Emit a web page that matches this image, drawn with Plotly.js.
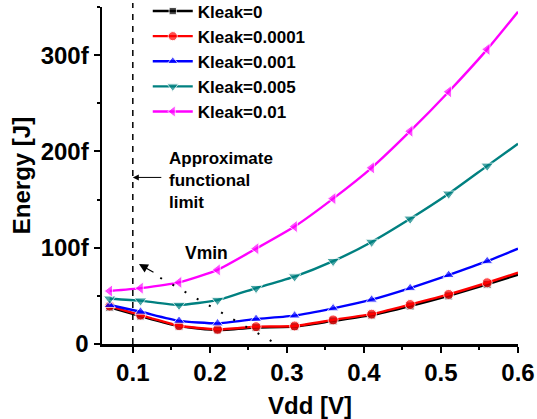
<!DOCTYPE html>
<html>
<head>
<meta charset="utf-8">
<script src="https://cdn.plot.ly/plotly-3.0.1.min.js"></script>
<style>html,body{margin:0;padding:0;background:#fff;}#chart{width:537px;height:419px;}</style>
</head>
<body>
<div id="chart"></div>
<script>
// Supply voltage (V)
const vdd = [0.07, 0.11, 0.16, 0.21, 0.26, 0.31, 0.36, 0.41, 0.46, 0.51, 0.56, 0.60];
// Energy in fJ
const k0      = [38, 29, 18.5, 14.5, 17, 18, 24, 30, 39.5, 50, 62, 72];
const k0001   = [39.4, 30, 19, 15.2, 18, 18.7, 25, 31, 41, 51.5, 63.6, 74];
const k001    = [40.5, 33.5, 24, 21.4, 26, 29.5, 37, 46, 58, 71.6, 86, 99];
const k005    = [47, 45, 40.5, 45.6, 58, 70, 86, 106, 130, 156, 185, 208];
const k01     = [55, 58, 64, 77, 99, 122, 151, 183, 221, 262, 306, 345];
const names = ["Kleak=0", "Kleak=0.0001", "Kleak=0.001", "Kleak=0.005", "Kleak=0.01"];
const yTickVals = [0, 100, 200, 300];
const yTickText = ["0", "100f", "200f", "300f"];

const series = [k0, k0001, k001, k005, k01];
const colors = ["#000000", "#ff0000", "#0000ff", "#008080", "#ff00ff"];
const symbols = ["square", "circle", "triangle-up", "triangle-down", "triangle-left"];
const msizes = [8, 10, 10, 11, 11];

const traces = series.map((ys, i) => ({
  x: vdd, y: ys, name: names[i], type: "scatter", mode: "lines+markers",
  line: {color: colors[i], width: 2.4, shape: "spline", smoothing: 0.5},
  marker: {color: colors[i], symbol: symbols[i],
           size: vdd.map((v, j) => j === vdd.length - 1 ? 0 : msizes[i])}
}));

const F = "Arial, 'Liberation Sans', sans-serif";
const layout = {
  width: 537, height: 419,
  margin: {l: 102, r: 19, t: 7, b: 75, autoexpand: false},
  paper_bgcolor: "#fff", plot_bgcolor: "#fff",
  font: {family: F, color: "#000"},
  showlegend: true,
  legend: {x: 0.11, xanchor: "left", y: 1.04, yanchor: "top",
           itemwidth: 40,
           bgcolor: "rgba(0,0,0,0)", font: {size: 17, family: F, weight: "bold"},
           tracegroupgap: 0},
  xaxis: {
    range: [0.06, 0.6], showgrid: false, zeroline: false, automargin: false,
    showline: true, linewidth: 2.5, linecolor: "#000",
    ticks: "outside", ticklen: 6, tickwidth: 2, tickcolor: "#000",
    tick0: 0, dtick: 0.1,
    tickfont: {size: 24, family: F, weight: "bold"},
    minor: {tick0: 0, dtick: 0.05, ticks: "outside", ticklen: 3, tickwidth: 2, tickcolor: "#000"},
    title: {text: "Vdd [V]", font: {size: 24, family: F, weight: "bold"}, standoff: 12}
  },
  yaxis: {
    range: [0, 350], showgrid: false, zeroline: false, automargin: false,
    showline: true, linewidth: 2.5, linecolor: "#000",
    ticks: "outside", ticklen: 6, tickwidth: 2, tickcolor: "#000",
    tickmode: "array", tickvals: yTickVals, ticktext: yTickText,
    tickfont: {size: 24, family: F, weight: "bold"},
    minor: {tick0: 0, dtick: 50, ticks: "outside", ticklen: 3, tickwidth: 2, tickcolor: "#000"},
    title: {text: "Energy [J]", font: {size: 24, family: F, weight: "bold"}, standoff: 4}
  },
  shapes: [
    {type: "line", xref: "x", yref: "paper", x0: 0.1, x1: 0.1, y0: 0, y1: 1.012,
     line: {color: "#000", width: 1.5, dash: "6px,6px"}},
    {type: "line", xref: "x", yref: "y", x0: 0.28, y0: 3, x1: 0.122, y1: 75,
     line: {color: "#000", width: 2, dash: "2px,12px"}}
  ],
  annotations: [
    {x: 0.1, y: 173, xref: "x", yref: "y", ax: 30, ay: 0, showarrow: true,
     arrowhead: 2, arrowsize: 1.2, arrowwidth: 1, arrowcolor: "#000", text: ""},
    {x: 0.144, y: 170, xref: "x", yref: "y", xanchor: "left", yanchor: "middle", align: "left",
     showarrow: false, text: "Approximate<br>functional<br>limit",
     font: {size: 17, family: F, weight: "bold", color: "#000"}},
    {x: 0.165, y: 95, xref: "x", yref: "y", xanchor: "left", yanchor: "middle",
     showarrow: false, text: "Vmin", font: {size: 17.5, family: F, weight: "bold", color: "#000"}},
    {x: 0.108, y: 83, xref: "x", yref: "y", ax: 16, ay: 9, showarrow: true,
     arrowhead: 2, arrowsize: 1.5, arrowwidth: 1.2, arrowcolor: "#000", text: ""}
  ]
};

Plotly.newPlot("chart", traces, layout, {displayModeBar: false, staticPlot: true});
</script>
</body>
</html>
